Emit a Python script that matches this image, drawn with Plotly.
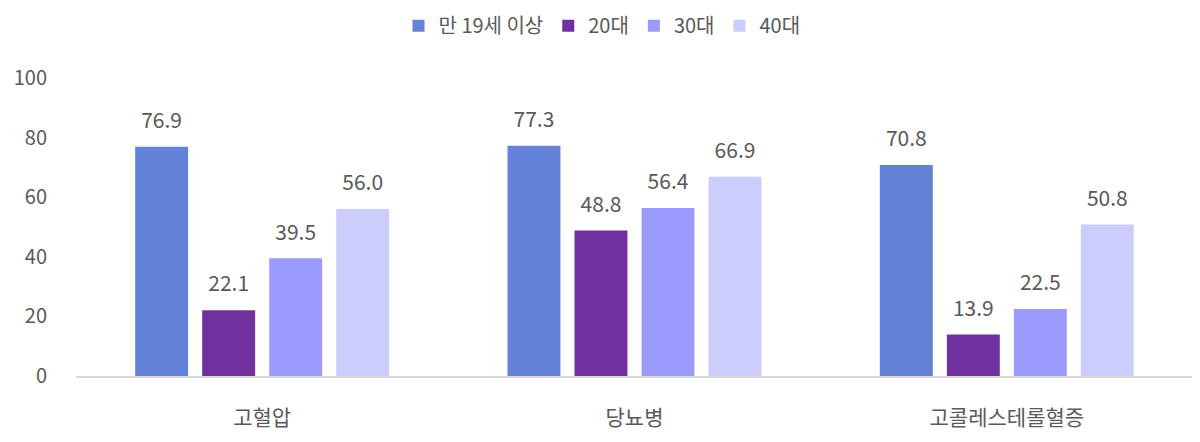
import plotly.graph_objects as go

categories = ["고혈압", "당뇨병", "고콜레스테롤혈증"]
series_names = ["만 19세 이상", "20대", "30대", "40대"]
values = {
    "만 19세 이상": [76.9, 77.3, 70.8],
    "20대": [22.1, 48.8, 13.9],
    "30대": [39.5, 56.4, 22.5],
    "40대": [56.0, 66.9, 50.8],
}
colors = ["#6482D8", "#70309E", "#9B9BFD", "#CCCCFD"]

font_family = "Noto Sans CJK KR, Noto Sans, sans-serif"
grey = "#595959"

fig = go.Figure()
for name, color in zip(series_names, colors):
    fig.add_trace(go.Bar(
        x=categories,
        y=values[name],
        name=name,
        offsetgroup=name,
        marker=dict(color=color, line=dict(width=0)),
        hoverinfo="x+y+name",
    ))
# value labels, lifted above the bars by an invisible marker
for name in series_names:
    fig.add_trace(go.Scatter(
        x=categories,
        y=values[name],
        offsetgroup=name,
        mode="markers+text",
        text=[f"{v:.1f}" for v in values[name]],
        textposition="top center",
        textfont=dict(size=21, color=grey, family=font_family),
        marker=dict(size=20, opacity=0),
        showlegend=False,
        hoverinfo="skip",
        cliponaxis=False,
    ))

fig.update_layout(
    width=1200,
    height=442,
    barmode="group",
    scattermode="group",
    bargap=0.28,
    scattergap=0.28,
    bargroupgap=0.21,
    plot_bgcolor="white",
    paper_bgcolor="white",
    font=dict(family=font_family, color=grey, size=19),
    margin=dict(l=68, r=15, t=70, b=74, autoexpand=False),
    legend=dict(
        orientation="h",
        x=0.495, xanchor="center", xref="container",
        y=0.96, yanchor="middle", yref="container",
        font=dict(size=20, color=grey),
        itemwidth=30,
        traceorder="normal",
    ),
)
fig.update_xaxes(
    showline=True, linecolor="#D9D9D9", linewidth=2,
    ticks="", tickfont=dict(size=21, color=grey),
    showgrid=False,
    ticklabelstandoff=22,
)
fig.update_yaxes(
    range=[0, 100], dtick=20,
    showgrid=False, zeroline=False, showline=False,
    tickfont=dict(size=20, color=grey),
    ticklabelstandoff=28,
)

fig.write_html("out.html")
